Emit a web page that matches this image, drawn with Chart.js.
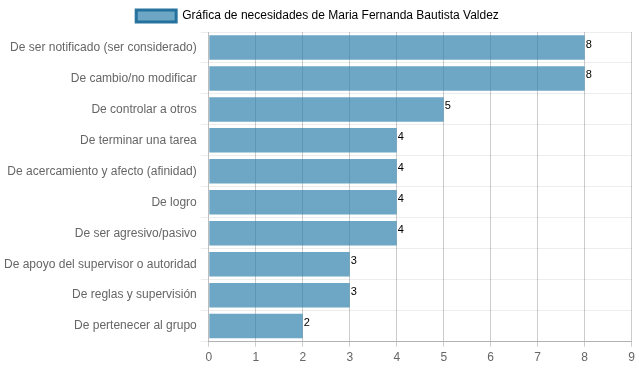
<!DOCTYPE html>
<html><head><meta charset="utf-8">
<script src="https://cdn.jsdelivr.net/npm/chart.js@4"></script>
<style>html,body{margin:0;padding:0;background:#fff}#w{width:639px;height:372px}</style>
</head><body><div id="w"><canvas id="c"></canvas></div>
<script>
const categories = ["De ser notificado (ser considerado)","De cambio/no modificar","De controlar a otros","De terminar una tarea","De acercamiento y afecto (afinidad)","De logro","De ser agresivo/pasivo","De apoyo del supervisor o autoridad","De reglas y supervisión","De pertenecer al grupo"];
const values = [8,8,5,4,4,4,4,3,3,2];
const seriesLabel = "Gráfica de necesidades de Maria Fernanda Bautista Valdez";
const xTicks = [0,1,2,3,4,5,6,7,8,9];

Chart.defaults.font.family = "'Liberation Sans', Arial, sans-serif";
Chart.defaults.font.size = 12;
Chart.defaults.color = "#666";

const labelPlugin = {
  id: 'vals',
  afterDatasetsDraw(chart) {
    const ctx = chart.ctx;
    const meta = chart.getDatasetMeta(0);
    ctx.save();
    ctx.fillStyle = '#000';
    ctx.font = "11px 'Liberation Sans', Arial, sans-serif";
    ctx.textBaseline = 'middle';
    ctx.textAlign = 'left';
    meta.data.forEach((bar, i) => {
      ctx.fillText(String(values[i]), bar.x + 1, bar.y - 3);
    });
    ctx.restore();
  }
};

new Chart(document.getElementById('c'), {
  type: 'bar',
  data: {
    labels: categories,
    datasets: [{
      label: seriesLabel,
      data: values,
      backgroundColor: 'rgba(40,125,170,0.68)',
      borderColor: 'rgba(30,110,155,0.9)',
      borderWidth: 0,
      barPercentage: 0.86,
      categoryPercentage: 0.92
    }]
  },
  options: {
    indexAxis: 'y',
    responsive: true,
    maintainAspectRatio: false,
    animation: false,
    layout: { padding: { left: 0, right: 4, top: 0, bottom: 3 } },
    plugins: {
      legend: {
        labels: {
          boxWidth: 40,
          boxHeight: 12,
          color: '#666',
          generateLabels(chart) {
            return [{
              text: seriesLabel,
              fillStyle: 'rgba(40,125,170,0.68)',
              strokeStyle: 'rgba(30,110,155,0.95)',
              lineWidth: 3,
              datasetIndex: 0,
              hidden: false
            }];
          }
        }
      },
      tooltip: { enabled: false }
    },
    scales: {
      x: {
        min: 0, max: 9,
        ticks: { stepSize: 1, color: '#666', padding: 4, callback: (v) => xTicks.includes(v) ? String(v) : '' },
        grid: { color: 'rgba(0,0,0,0.2)', drawTicks: true, tickLength: 5 },
        border: { color: 'rgba(0,0,0,0.25)' }
      },
      y: {
        ticks: { color: '#666', padding: 4 },
        grid: { color: 'rgba(0,0,0,0.07)', tickLength: 8 },
        border: { color: 'rgba(0,0,0,0.07)' }
      }
    }
  },
  plugins: [labelPlugin]
});
</script></body></html>
